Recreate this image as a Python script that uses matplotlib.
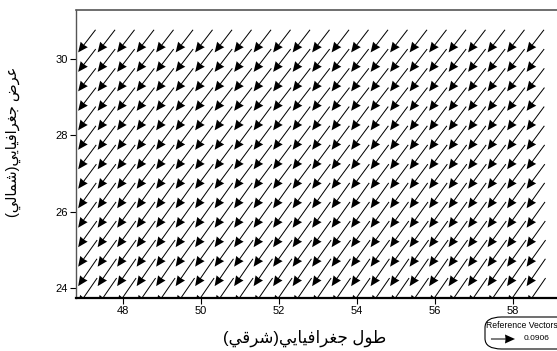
import numpy as np
import matplotlib.pyplot as plt
from matplotlib.patches import FancyBboxPatch

# arrow tip positions (deg)
lon_tips = np.arange(46.85, 58.4, 0.5)
lat_tips = np.arange(23.54, 30.2, 0.51)   # lowest row is clipped by the frame

# per row (south -> north) speed and direction
row_speed = [0.128, 0.127, 0.125, 0.123, 0.121, 0.119, 0.117,
             0.116, 0.114, 0.113, 0.112, 0.111, 0.110, 0.109]
row_dir = [236, 236, 235, 235, 235, 235, 234,
           234, 234, 234, 233, 233, 233, 233]   # degrees, counter-clockwise from east

ref_value = 0.0906
xticks = [48, 50, 52, 54, 56, 58]
yticks = [24, 26, 28, 30]
xlabel = 'طول جغرافيايي(شرقي)'
ylabel = 'عرض جغرافيايي(شمالي)'

# presentation forms: isolated, final, initial, medial
FORMS = {
    'ا': ('\uFE8D', '\uFE8E', None, None),
    'ر': ('\uFEAD', '\uFEAE', None, None),
    'و': ('\uFEED', '\uFEEE', None, None),
    'ط': ('\uFEC1', '\uFEC2', '\uFEC3', '\uFEC4'),
    'ل': ('\uFEDD', '\uFEDE', '\uFEDF', '\uFEE0'),
    'ج': ('\uFE9D', '\uFE9E', '\uFE9F', '\uFEA0'),
    'غ': ('\uFECD', '\uFECE', '\uFECF', '\uFED0'),
    'ف': ('\uFED1', '\uFED2', '\uFED3', '\uFED4'),
    'ي': ('\uFEF1', '\uFEF2', '\uFEF3', '\uFEF4'),
    'ش': ('\uFEB5', '\uFEB6', '\uFEB7', '\uFEB8'),
    'ق': ('\uFED5', '\uFED6', '\uFED7', '\uFED8'),
    'ع': ('\uFEC9', '\uFECA', '\uFECB', '\uFECC'),
    'ض': ('\uFEBD', '\uFEBE', '\uFEBF', '\uFEC0'),
    'م': ('\uFEE1', '\uFEE2', '\uFEE3', '\uFEE4'),
}


def shape(text):
    # join letters and put them in visual (left to right) order
    out = []
    for i, c in enumerate(text):
        if c not in FORMS:
            out.append(c)
            continue
        prev = text[i - 1] if i > 0 else ''
        nxt = text[i + 1] if i + 1 < len(text) else ''
        join_prev = prev in FORMS and FORMS[prev][2] is not None
        join_next = nxt in FORMS and FORMS[c][2] is not None
        iso, fin, ini, med = FORMS[c]
        if join_prev and join_next:
            out.append(med)
        elif join_prev:
            out.append(fin)
        elif join_next:
            out.append(ini)
        else:
            out.append(iso)
    vis = ''.join(reversed(out))
    return vis.translate(str.maketrans('()', ')('))


plt.rcParams['font.family'] = ['Liberation Sans', 'DejaVu Sans']

LON, LAT = np.meshgrid(lon_tips, lat_tips)
ang = np.radians(np.array(row_dir, dtype=float))
spd = np.array(row_speed)
U = np.tile((spd * np.cos(ang))[:, None], (1, len(lon_tips)))
V = np.tile((spd * np.sin(ang))[:, None], (1, len(lon_tips)))

fig = plt.figure(figsize=(5.57, 3.51), dpi=100)
ax = fig.add_axes([76 / 557, 1 - 298 / 351, 1 - 76 / 557, 288 / 351])

q = ax.quiver(LON, LAT, U, V, pivot='tip', angles='xy', scale_units='xy',
              scale=0.147, units='dots', width=1.0, headwidth=9,
              headlength=10, headaxislength=9.5, color='black')

ax.set_xlim(46.795, 59.13)
ax.set_ylim(23.74, 31.28)
ax.set_xticks(xticks)
ax.set_yticks(yticks)
ax.tick_params(direction='out', length=4, width=0.8, labelsize=8, pad=2)

ax.spines['right'].set_visible(False)
ax.spines['top'].set_color('#555555')
ax.spines['left'].set_color('#555555')
ax.spines['top'].set_linewidth(1.2)
ax.spines['left'].set_linewidth(1.0)
ax.spines['bottom'].set_linewidth(1.6)

fig.text(305 / 557, 1 - 338 / 351, shape(xlabel), fontsize=12,
         ha='center', va='center')
fig.text(13 / 557, 1 - 142 / 351, shape(ylabel), fontsize=10.5,
         ha='center', va='center', rotation=90)

# reference vector box
box = FancyBboxPatch((485 / 557, 1 - 349 / 351), 0.2, 32 / 351,
                     boxstyle='round,pad=0,rounding_size=0.03',
                     transform=fig.transFigure, facecolor='white',
                     edgecolor='black', linewidth=0.8, clip_on=False,
                     zorder=-1)
fig.add_artist(box)
fig.text(522 / 557, 1 - 326 / 351, 'Reference Vectors', fontsize=6.2,
         ha='center', va='center')
ax.quiverkey(q, 515 / 557, 1 - 339 / 351, ref_value, f'{ref_value}',
             labelpos='E', coordinates='figure', labelsep=0.09,
             fontproperties={'size': 6})

fig.savefig('out.png', dpi=100)
